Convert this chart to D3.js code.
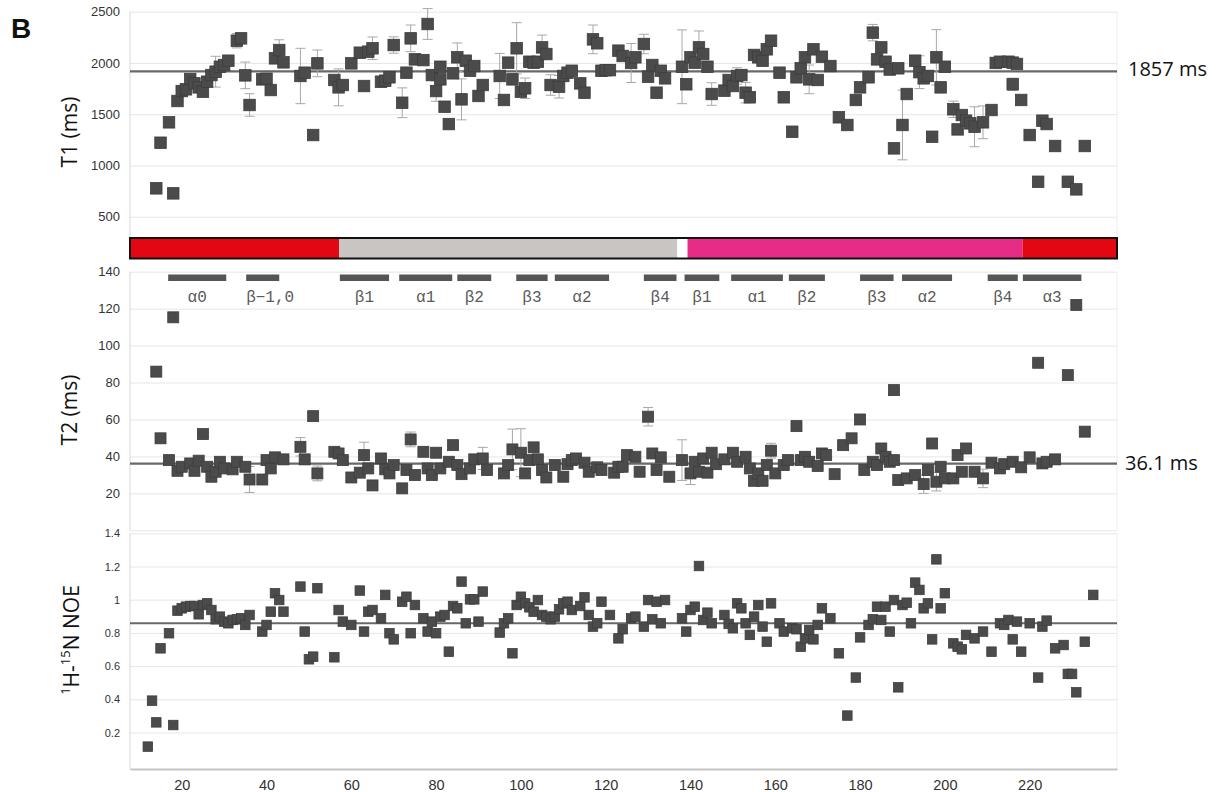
<!DOCTYPE html>
<html>
<head>
<meta charset="utf-8">
<script src="https://cdn.jsdelivr.net/npm/d3@7"></script>
<style>
  body { margin: 0; background: #fff; }
  svg text { font-family: "Liberation Sans", Arial, sans-serif; }
</style>
</head>
<body>
<div id="chart"></div>
<script>

// residue ranges of the domain bar
var domainNames = ['N-term', 'domain1', 'linker', 'domain2', 'C-term']
var domainStart = [7.8, 57.1, 136.9, 139.3, 218.3]
var domainEnd   = [57.1, 136.9, 139.3, 218.3, 240.6]

// secondary structure elements
var ssLabels = ['α0', 'β−1,0', 'β1', 'α1', 'β2', 'β3', 'α2', 'β4', 'β1', 'α1', 'β2', 'β3', 'α2', 'β4', 'α3']
var ssStart  = [16.8, 35.2, 57.3, 71.3, 85.0, 98.9, 108.0, 129.0, 138.6, 149.6, 163.2, 180.0, 189.9, 210.1, 218.4]
var ssEnd    = [30.5, 43.0, 68.9, 83.8, 93.0, 106.3, 120.8, 136.7, 146.8, 161.8, 171.7, 187.9, 201.7, 217.2, 232.2]

var xTicks   = [20, 40, 60, 80, 100, 120, 140, 160, 180, 200, 220]
var t1Ticks  = [500, 1000, 1500, 2000, 2500]
var t2Ticks  = [0, 20, 40, 60, 80, 100, 120, 140]
var noeTicks = [0.2, 0.4, 0.6, 0.8, 1, 1.2, 1.4]

// [residue, T1 ms]
var t1Points = [[14,777],[15,1222],[17,1421],[18,728],[19,1629],[20,1726],[21,1743],[22,1843],[23,1801],[24,1762],
  [25,1720],[26,1817],[27,1882],[28,1915],[29,1963],[30,1980],[31,2022],[33,2217],[34,2240],[35,1879],[36,1590],
  [39,1840],[40,1846],[41,1736],[42,2045],[43,2126],[44,2006],[48,1873],[49,1905],[51,1297],[52,1996],[56,1834],
  [57,1762],[58,1785],[60,1996],[62,2100],[63,1775],[64,2110],[65,2143],[67,1817],[68,1827],[69,1860],[70,2175],
  [72,1612],[73,1905],[74,2240],[75,2035],[77,2028],[78,2380],[79,1882],[80,1726],[81,1963],[81,1840],[82,1573],
  [83,1404],[84,1899],[85,2055],[86,1645],[87,2022],[88,1924],[89,1970],[90,1678],[91,1785],[95,1873],[96,1639],
  [97,2003],[98,1840],[99,2143],[100,1720],[101,1753],[102,2012],[103,2003],[104,2012],[105,2152],[106,2087],
  [107,1785],[109,1768],[110,1873],[111,1905],[112,1924],[114,1801],[115,1710],[117,2230],[118,2192],[119,1924],
  [120,1930],[121,1930],[123,2120],[124,2068],[126,2000],[127,2055],[129,2185],[130,1866],[131,1980],[132,1710],
  [133,1924],[134,1850],[138,1963],[139,1792],[140,2055],[141,2003],[142,2152],[143,2087],[144,1963],[145,1697],
  [148,1730],[149,1834],[150,1775],[151,1873],[152,1882],[153,1710],[154,1665],[155,2078],[156,2055],[157,2022],
  [158,2133],[159,2217],[161,1905],[162,1665],[164,1329],[165,1860],[166,1948],[167,2055],[168,1840],[169,2133],
  [170,1834],[171,2061],[173,1970],[175,1470],[177,1395],[179,1639],[180,1762],[182,1860],[183,2296],[184,2035],
  [185,2152],[186,2012],[187,1936],[188,1167],[189,1948],[190,1395],[191,1697],[193,2022],[194,1910],[195,1850],
  [196,1873],[197,1280],[198,2055],[199,1762],[200,1963],[202,1548],[203,1352],[204,1492],[205,1437],[206,1411],
  [207,1378],[209,1421],[211,1541],[212,2000],[213,2012],[215,2012],[216,2003],[216,1792],[217,1990],[218,1639],
  [220,1297],[222,841],[223,1437],[224,1404],[226,1190],[229,841],[231,767],[233,1190]]

// [residue, error] visible T1 error bars
var t1Errors = [[28,150],[33,70],[35,130],[36,110],[43,100],[48,270],[52,130],[57,180],[65,110],[70,80],[72,145],
  [74,130],[78,150],[80,100],[85,140],[86,200],[95,220],[99,250],[101,100],[105,120],[107,100],[109,110],[117,140],
  [126,190],[129,95],[138,360],[142,160],[145,110],[151,80],[153,100],[168,140],[183,80],[190,340],[194,160],
  [198,270],[202,80],[207,195],[209,160],[216,60]]

// [residue, T2 ms]
var t2Points = [[14,85.9],[15,49.8],[17,38],[18,115.3],[19,32.2],[20,34.4],[22,36.2],[23,32.2],[24,37.7],[25,52.1],
  [26,34.4],[27,29],[28,31.7],[29,37.1],[30,33.5],[32,33],[33,37.1],[35,34.4],[36,27.5],[39,27.5],[40,38],[41,33.5],
  [42,39.5],[44,38.4],[48,45.2],[49,38.4],[51,61.8],[52,30.8],[56,42.5],[57,41.6],[58,38],[60,28.6],[62,31.2],
  [63,40.7],[64,33.5],[65,24.3],[67,38.9],[68,33],[69,30.8],[70,35.3],[72,22.7],[73,32.6],[74,49.2],[75,29.9],
  [77,42.5],[78,33.5],[79,29.9],[80,42],[81,33.5],[83,37.1],[84,46.1],[85,35.3],[86,30.4],[88,33.5],[89,38.4],
  [91,38.9],[92,32.6],[96,30.8],[97,35.3],[98,43.8],[100,42],[101,30.8],[102,38],[103,44.9],[104,38.4],[105,32.6],
  [106,28.6],[108,35.3],[110,29],[111,35.8],[112,38],[113,38.9],[115,36.6],[116,31.7],[118,34.1],[119,32.6],
  [122,31.2],[123,34.4],[124,34.4],[125,40.7],[127,39.8],[128,31.7],[130,61.5],[131,41.6],[132,32.6],[133,39.5],
  [135,29],[138,38],[140,30.8],[141,37.1],[142,31.7],[143,38.9],[144,31.2],[145,42],[146,35.8],[148,38.4],[150,42],
  [151,37.1],[153,39.8],[154,33.5],[155,26.8],[156,30.8],[157,26.8],[158,35.3],[159,43.1],[160,30.8],[162,35.3],
  [163,38],[165,56.4],[166,38],[167,39.8],[168,37.1],[170,34.8],[171,41.6],[172,40.7],[174,30.4],[176,46.1],
  [178,49.8],[180,60],[181,32.6],[183,37.1],[184,35.3],[185,44.3],[186,39.8],[187,37.1],[188,38],[188,75.9],
  [189,27.2],[191,28.1],[193,29.9],[195,25],[196,32.6],[197,47],[198,26.3],[199,34.4],[200,28.1],[202,28.1],
  [203,40.7],[204,31.7],[205,44.3],[207,31.7],[209,28.1],[211,36.6],[213,33.5],[214,35.8],[216,37.1],[218,34.1],
  [220,39.5],[222,90.7],[223,36.2],[224,37.1],[226,38.4],[229,84],[231,122],[233,53.4]]

var t2Errors = [[36,7],[48,5],[52,4],[63,7],[74,4],[91,6],[98,11],[100,13],[130,5],[138,11],[140,6],[159,4],
  [195,5],[198,5],[209,5]]

// [residue, 1H-15N NOE]
var noePoints = [[12,0.115],[13,0.392],[14,0.261],[15,0.707],[17,0.798],[18,0.245],[19,0.934],[20,0.948],[21,0.958],
  [22,0.962],[23,0.962],[24,0.912],[25,0.968],[26,0.978],[27,0.938],[28,0.882],[29,0.898],[30,0.868],[31,0.858],
  [32,0.878],[33,0.882],[34,0.888],[35,0.848],[36,0.908],[39,0.808],[40,0.848],[41,0.928],[42,1.039],[43,0.998],
  [44,0.928],[48,1.079],[49,0.808],[50,0.641],[51,0.657],[52,1.069],[56,0.653],[57,0.938],[58,0.868],[60,0.848],
  [62,1.055],[63,0.808],[64,0.928],[65,0.938],[67,0.888],[68,1.029],[69,0.798],[70,0.761],[72,0.988],[73,1.018],
  [74,0.798],[75,0.968],[77,0.888],[78,0.808],[79,0.868],[80,0.798],[81,0.898],[82,0.908],[83,0.687],[84,0.962],
  [85,0.948],[86,1.109],[87,0.858],[88,1.002],[89,1.002],[90,0.868],[91,1.049],[95,0.802],[96,0.858],[97,0.888],
  [98,0.677],[99,0.968],[100,1.018],[101,0.978],[102,0.954],[103,0.928],[104,0.998],[105,0.908],[106,0.898],
  [107,0.882],[108,0.898],[109,0.942],[110,0.978],[111,0.988],[112,0.938],[114,0.962],[115,1.014],[116,0.908],
  [117,0.838],[118,0.858],[119,0.988],[121,0.908],[123,0.767],[124,0.822],[126,0.888],[127,0.898],[129,0.838],
  [130,0.998],[131,0.882],[132,0.988],[133,0.858],[134,0.998],[138,0.888],[139,0.808],[140,0.938],[141,0.958],
  [142,1.203],[143,0.878],[144,0.922],[145,0.858],[148,0.908],[149,0.854],[150,0.828],[151,0.978],[152,0.948],
  [153,0.858],[154,0.788],[155,0.898],[156,0.968],[157,0.838],[158,0.747],[159,0.978],[161,0.858],[162,0.808],
  [164,0.828],[165,0.822],[166,0.717],[167,0.767],[168,0.818],[169,0.761],[170,0.848],[171,0.948],[173,0.888],
  [175,0.677],[177,0.302],[179,0.531],[180,0.773],[182,0.848],[183,0.882],[184,0.958],[185,0.878],[186,0.958],
  [187,0.808],[188,0.998],[189,0.472],[190,0.968],[191,0.982],[192,0.858],[193,1.103],[194,1.059],[195,0.948],
  [196,0.978],[197,0.761],[198,1.243],[199,0.948],[200,1.039],[202,0.737],[203,0.717],[204,0.701],[205,0.788],
  [207,0.767],[209,0.808],[211,0.687],[213,0.858],[214,0.848],[215,0.878],[216,0.761],[217,0.868],[218,0.687],
  [220,0.858],[222,0.531],[223,0.838],[224,0.874],[226,0.707],[228,0.727],[229,0.553],[230,0.553],[231,0.442],
  [233,0.747],[235,1.029]]

// reference lines
var t1Line = 1917, t1LineLabel = '1857 ms'
var t2Line = 36.1, t2LineLabel = '36.1 ms'
var noeLine = 0.858


var domainColor = { 'N-term': '#e30613', 'domain1': '#c9c5c3', 'linker': '#ffffff', 'domain2': '#e52d87', 'C-term': '#e30613' }

var w = 1220, h = 792
var left = 130, right = 1117

var svg = d3.select('#chart')
  .append('svg')
  .attr('width', w)
  .attr('height', h)

var x = d3.scaleLinear().domain([7.8, 240.6]).range([left, right])
var yT1 = d3.scaleLinear().domain([0, 2500]).range([268, 11.7])
var yT2 = d3.scaleLinear().domain([0, 140]).range([530.3, 271.7])
var yNoe = d3.scaleLinear().domain([0, 1.4]).range([765.7, 533.3])


function gridAxis(y, ticks, fmt, fontSize, top, bottom) {
  var g = svg.append('g')
    .attr('transform', 'translate(' + left + ',0)')
    .call(d3.axisLeft(y)
      .tickValues(ticks)
      .tickSize(-(right - left))
      .tickPadding(10)
      .tickFormat(fmt))
  g.select('.domain').remove()
  g.selectAll('line').attr('stroke', '#e6e6e6')
  g.selectAll('text')
    .attr('fill', '#333')
    .style('font-size', fontSize + 'px')

  // panel borders
  svg.append('line')
    .attr('x1', left).attr('x2', left)
    .attr('y1', top).attr('y2', bottom)
    .attr('stroke', '#d6d6d6')
  svg.append('line')
    .attr('x1', right).attr('x2', right)
    .attr('y1', top).attr('y2', bottom)
    .attr('stroke', '#ededed')
}

function errorBars(data, values, y) {
  var lookup = {}
  values.forEach(function(d) { lookup[d[0]] = d[1] })
  var g = svg.append('g')
  data.forEach(function(d) {
    var v = lookup[d[0]]
    if (v === undefined) return
    var cx = x(d[0])
    g.append('line').attr('x1', cx).attr('x2', cx)
      .attr('y1', y(v - d[1])).attr('y2', y(v + d[1]))
      .attr('stroke', '#a8a8a8').attr('stroke-width', 1)
    ;[v - d[1], v + d[1]].forEach(function(e) {
      g.append('line').attr('x1', cx - 5).attr('x2', cx + 5)
        .attr('y1', y(e)).attr('y2', y(e))
        .attr('stroke', '#a8a8a8').attr('stroke-width', 1)
    })
  })
}

function squares(data, y, size) {
  svg.append('g').selectAll('rect')
    .data(data)
    .enter().append('rect')
    .attr('x', function(d) { return x(d[0]) - size / 2 })
    .attr('y', function(d) { return y(d[1]) - size / 2 })
    .attr('width', size)
    .attr('height', size)
    .attr('fill', '#4b4b4b')
    .attr('stroke', '#3d3d3d')
    .attr('stroke-width', 0.8)
}

function refLine(v, y) {
  svg.append('line')
    .attr('x1', left).attr('x2', right)
    .attr('y1', y(v)).attr('y2', y(v))
    .attr('stroke', '#686868')
    .attr('stroke-width', 2.2)
}

function title(text, cx, cy) {
  return svg.append('text')
    .attr('transform', 'translate(' + cx + ',' + cy + ') rotate(-90)')
    .attr('text-anchor', 'middle')
    .style('font-family', '"Open Sans", sans-serif')
    .style('font-size', '21px')
    .attr('fill', '#111')
    .text(text)
}


// T1 panel
gridAxis(yT1, t1Ticks, d3.format('d'), 13, 11.7, 238)
refLine(t1Line, yT1)
errorBars(t1Errors, t1Points, yT1)
squares(t1Points, yT1, 11.5)

// T2 panel
gridAxis(yT2, t2Ticks, function(d) { return d === 0 ? '' : d }, 13, 271.7, 530.3)
refLine(t2Line, yT2)
errorBars(t2Errors, t2Points, yT2)
squares(t2Points, yT2, 11)

// NOE panel
gridAxis(yNoe, noeTicks, d3.format('~g'), 11, 533.3, 769)
refLine(noeLine, yNoe)
squares(noePoints, yNoe, 9.5)

// x axis
var xa = svg.append('g')
  .attr('transform', 'translate(0,769)')
  .call(d3.axisBottom(x).tickValues(xTicks).tickSize(0).tickPadding(11))
xa.select('.domain').attr('stroke', '#c4c4c4').attr('stroke-width', 2)
xa.selectAll('text').attr('fill', '#333').style('font-size', '14.5px')

// domain bar
var bar = svg.append('g')
bar.selectAll('rect.dom')
  .data(domainNames)
  .enter().append('rect')
  .attr('class', 'dom')
  .attr('x', function(d, i) { return x(domainStart[i]) })
  .attr('width', function(d, i) { return x(domainEnd[i]) - x(domainStart[i]) })
  .attr('y', 238)
  .attr('height', 20.5)
  .style('fill', function(d) { return domainColor[d] })
bar.append('rect')
  .attr('x', x(domainStart[0]))
  .attr('y', 238)
  .attr('width', x(domainEnd[domainEnd.length - 1]) - x(domainStart[0]))
  .attr('height', 20.5)
  .attr('fill', 'none')
  .attr('stroke', '#111')
  .attr('stroke-width', 2)

// secondary structure
var ss = svg.append('g')
ss.selectAll('rect')
  .data(ssLabels)
  .enter().append('rect')
  .attr('x', function(d, i) { return x(ssStart[i]) })
  .attr('width', function(d, i) { return x(ssEnd[i]) - x(ssStart[i]) })
  .attr('y', 274.5)
  .attr('height', 6.5)
  .attr('fill', '#555')
ss.selectAll('text')
  .data(ssLabels)
  .enter().append('text')
  .attr('y', 302)
  .style('font-family', '"Liberation Mono", monospace')
  .style('font-size', '16px')
  .attr('fill', '#5a5a5a')
  .text(function(d) { return d })
  .each(function(d, i) {
    var tw = this.getComputedTextLength()
    var bw = x(ssEnd[i]) - x(ssStart[i])
    if (tw > bw) {
      d3.select(this).attr('x', x(ssStart[i])).attr('text-anchor', 'start')
    } else {
      d3.select(this).attr('x', (x(ssStart[i]) + x(ssEnd[i])) / 2).attr('text-anchor', 'middle')
    }
  })

// labels
svg.append('text')
  .attr('x', 11).attr('y', 38)
  .style('font-size', '28px')
  .style('font-weight', 'bold')
  .attr('fill', '#111')
  .text('B')

title('T1 (ms)', 77, 132)
title('T2 (ms)', 77, 410)
var noeTitle = title('', 79, 640)
noeTitle.append('tspan').attr('baseline-shift', 'super').style('font-size', '13px').text('1')
noeTitle.append('tspan').text('H-')
noeTitle.append('tspan').attr('baseline-shift', 'super').style('font-size', '13px').text('15')
noeTitle.append('tspan').text('N NOE')

svg.append('text')
  .attr('x', 1128).attr('y', yT1(t1Line) + 5)
  .style('font-family', '"Open Sans", sans-serif')
  .style('font-size', '20px')
  .attr('fill', '#111')
  .text(t1LineLabel)

svg.append('text')
  .attr('x', 1125).attr('y', yT2(t2Line) + 6)
  .style('font-family', '"Open Sans", sans-serif')
  .style('font-size', '20px')
  .attr('fill', '#111')
  .text(t2LineLabel)

</script>
</body>
</html>
